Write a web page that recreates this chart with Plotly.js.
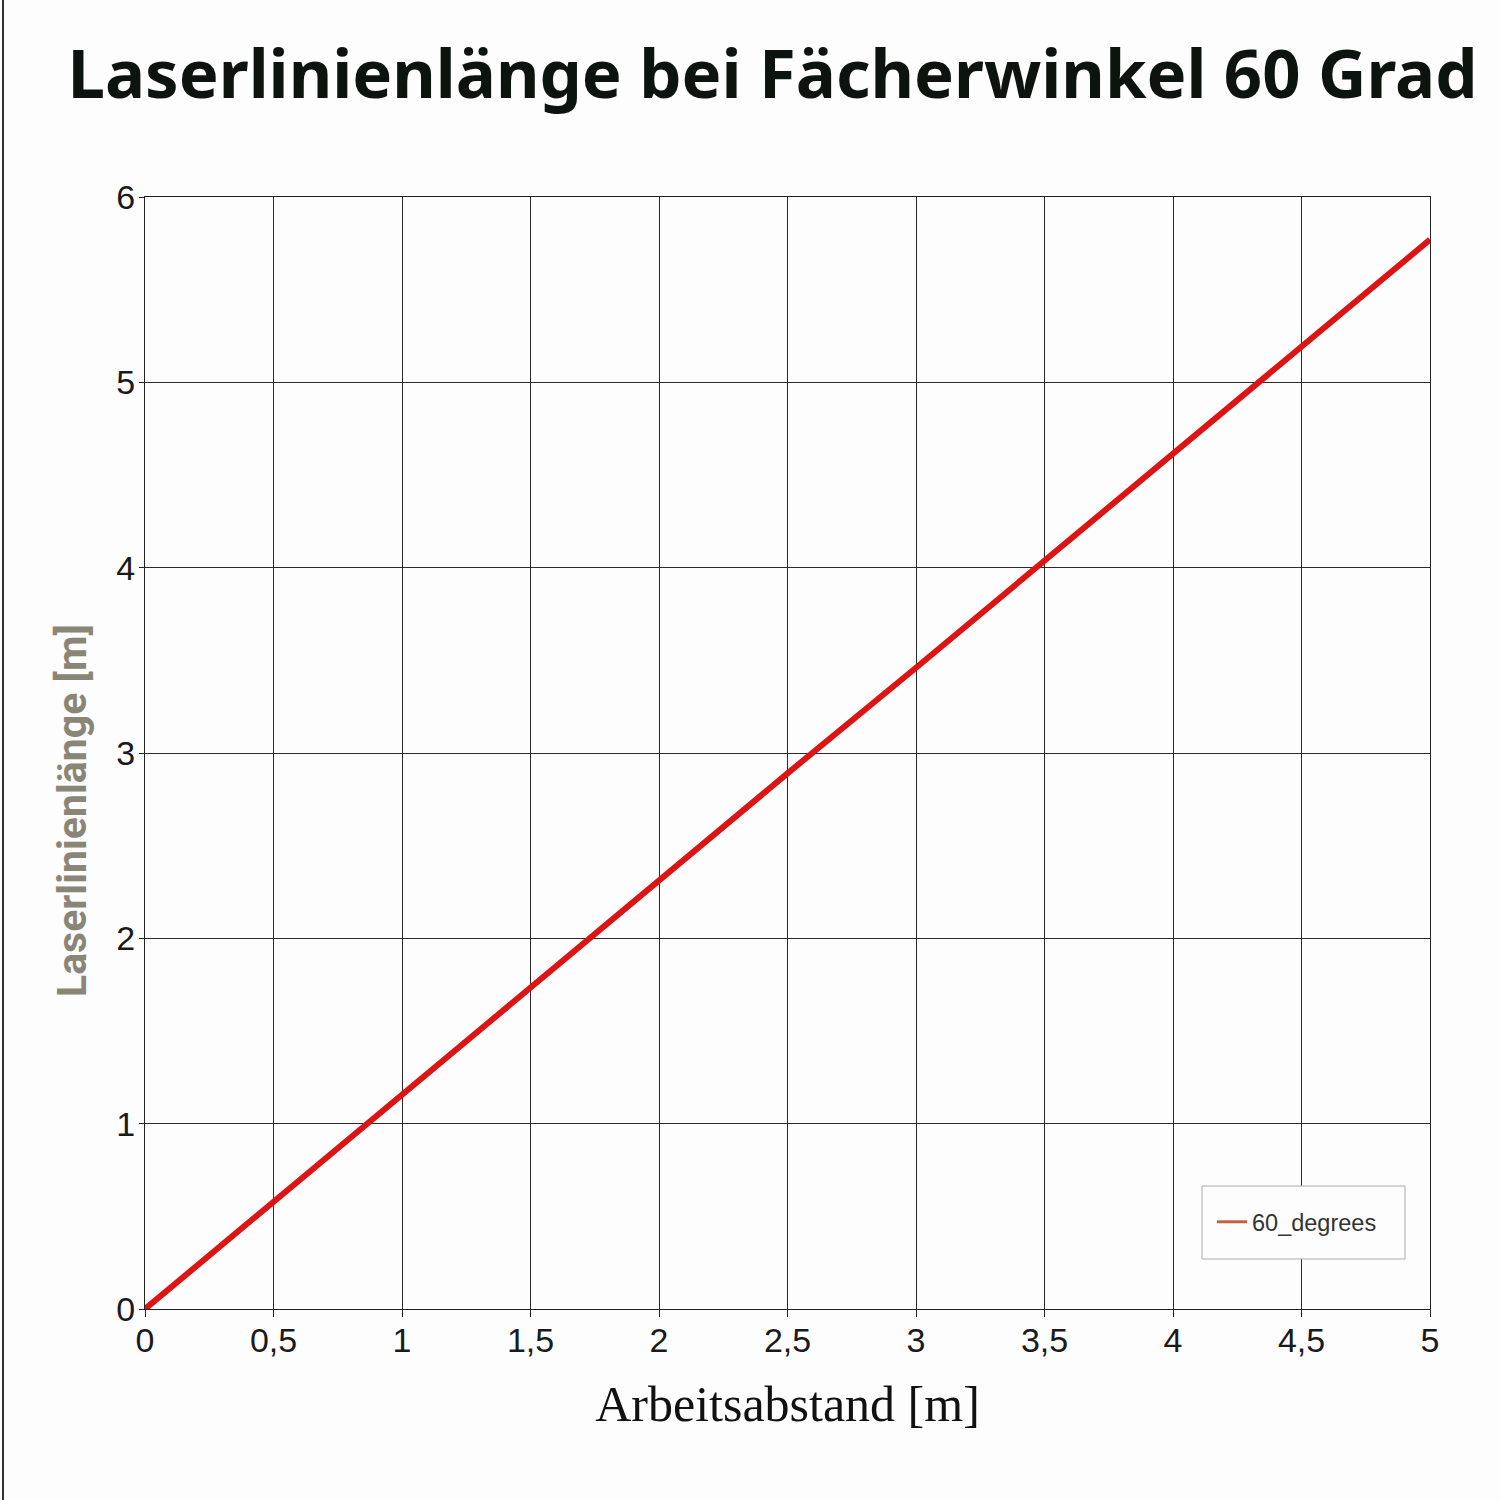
<!DOCTYPE html>
<html>
<head>
<meta charset="utf-8">
<script src="https://cdn.plot.ly/plotly-3.0.1.min.js"></script>
<style>
html,body{margin:0;padding:0;background:#fdfdfd;}
#chart{width:1500px;height:1500px;}
</style>
</head>
<body>
<div id="chart"></div>
<script>
// Data
const distance = [0, 0.5, 1, 1.5, 2, 2.5, 3, 3.5, 4, 4.5, 5];
const lineLength60 = [0, 0.58, 1.15, 1.73, 2.31, 2.89, 3.46, 4.04, 4.62, 5.20, 5.77];
const xTicks = [0, 0.5, 1, 1.5, 2, 2.5, 3, 3.5, 4, 4.5, 5];
const yTicks = [0, 1, 2, 3, 4, 5, 6];
const seriesName = "60_degrees";
const titleText = "Laserlinienlänge bei Fächerwinkel 60 Grad";
const xTitle = "Arbeitsabstand [m]";
const yTitle = "Laserlinienlänge [m]";

const L = 145, R = 70, T = 197, B = 191;
const W = 1500, H = 1500;
const pw = W - L - R, ph = H - T - B;

const traces = [
  {
    x: distance, y: lineLength60, type: 'scatter', mode: 'lines',
    line: {color: '#dc1414', width: 6}, showlegend: false, hoverinfo: 'skip'
  },
  {
    x: [null], y: [null], type: 'scatter', mode: 'lines', name: seriesName,
    line: {color: '#c8603c', width: 3}, showlegend: true
  }
];

const layout = {
  width: W, height: H,
  margin: {l: L, r: R, t: T, b: B},
  paper_bgcolor: '#fdfdfd',
  plot_bgcolor: '#fdfdfd',
  separators: ',.',
  title: {
    text: '<b>' + titleText + '</b>',
    font: {family: 'Noto Sans, Open Sans, sans-serif', size: 67, color: '#0d1410'},
    xref: 'container', yref: 'container', x: 0.515, y: 0.95, xanchor: 'center', yanchor: 'middle'
  },
  xaxis: {
    range: [0, 5], tickvals: xTicks, ticktext: xTicks.map(v => String(v).replace('.', ',')),
    showgrid: true, gridcolor: '#2a2a2a', gridwidth: 1,
    showline: true, linecolor: '#222', linewidth: 1, mirror: true,
    ticks: 'outside', ticklen: 7, tickcolor: '#222', zeroline: false,
    ticklabelstandoff: -6,
    tickfont: {family: 'Liberation Sans, Arial, sans-serif', size: 34, color: '#1a1a1a'},
    title: {
      text: xTitle, standoff: 28,
      font: {family: 'Liberation Serif, Times New Roman, serif', size: 50, color: '#111'}
    },
    fixedrange: true
  },
  yaxis: {
    range: [0, 6], tickvals: yTicks,
    showgrid: true, gridcolor: '#2a2a2a', gridwidth: 1,
    showline: true, linecolor: '#222', linewidth: 1, mirror: true,
    ticks: 'outside', ticklen: 5, tickcolor: '#222', zeroline: false,
    ticklabelstandoff: -3,
    tickfont: {family: 'Liberation Sans, Arial, sans-serif', size: 34, color: '#1a1a1a'},
    fixedrange: true
  },
  annotations: [
    {
      text: '<b>' + yTitle + '</b>', textangle: -90, showarrow: false,
      xref: 'paper', yref: 'paper', x: (72 - L) / pw, y: (H - B - 811) / ph,
      xanchor: 'center', yanchor: 'middle',
      font: {family: 'Roboto, Lato, sans-serif', size: 41, color: '#8a8677'}
    }
  ],
  shapes: [
    {
      type: 'rect', xref: 'paper', yref: 'paper', layer: 'above',
      x0: (1202 - L) / pw, x1: (1405 - L) / pw,
      y0: (H - B - 1259) / ph, y1: (H - B - 1186) / ph,
      line: {color: '#aaaaaa', width: 1}, fillcolor: '#fdfdfd'
    },
    {
      type: 'line', xref: 'paper', yref: 'paper',
      x0: (3 - L) / pw, x1: (3 - L) / pw, y0: -B / ph, y1: 1 + T / ph,
      line: {color: '#333', width: 2}
    }
  ],
  legend: {
    x: (1212 - L) / pw, y: (H - B - 1222) / ph, xanchor: 'left', yanchor: 'middle',
    bgcolor: 'rgba(0,0,0,0)', borderwidth: 0,
    font: {family: 'Liberation Sans, Arial, sans-serif', size: 23.5, color: '#333'},
    itemwidth: 30
  },
  showlegend: true
};

Plotly.newPlot('chart', traces, layout, {displayModeBar: false, staticPlot: true});
</script>
</body>
</html>
